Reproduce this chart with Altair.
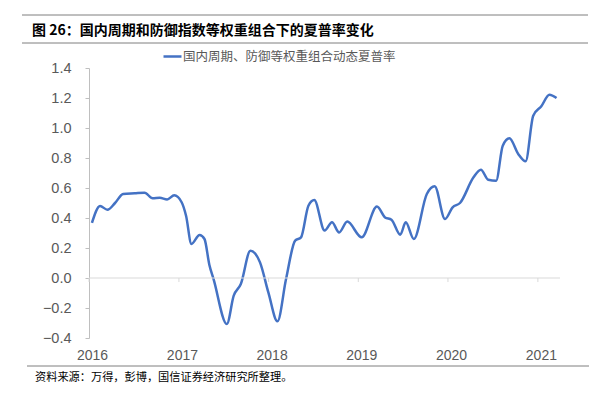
import altair as alt
import pandas as pd

# ---- data ----
dates = [
    "2016-01-13", "2016-02-15", "2016-03-16", "2016-04-16", "2016-05-19", "2016-07-05",
    "2016-08-14", "2016-09-16", "2016-10-15", "2016-11-14", "2016-12-13", "2017-01-12",
    "2017-01-30", "2017-02-21", "2017-03-26", "2017-04-15", "2017-05-05", "2017-05-22",
    "2017-07-15", "2017-08-12", "2017-09-10", "2017-10-19", "2017-11-27", "2017-12-31",
    "2018-02-06", "2018-03-13", "2018-04-19", "2018-05-13", "2018-06-12", "2018-07-06",
    "2018-08-17", "2018-09-16", "2018-10-15", "2018-11-17", "2019-01-15", "2019-03-18",
    "2019-04-20", "2019-05-16", "2019-06-21", "2019-07-13", "2019-08-15", "2019-10-07",
    "2019-11-08", "2019-12-20", "2020-01-20", "2020-02-19", "2020-04-14", "2020-05-14",
    "2020-06-13", "2020-07-15", "2020-08-11", "2020-09-07", "2020-10-13", "2020-11-12",
    "2020-12-13", "2021-01-15", "2021-02-17", "2021-03-18",
]
sharpe = [
    0.367, 0.480, 0.455, 0.500, 0.560, 0.565,
    0.569, 0.531, 0.535, 0.524, 0.551, 0.505,
    0.415, 0.227, 0.287, 0.260, 0.087, -0.007,
    -0.307, -0.118, -0.040, 0.182, 0.104, -0.096,
    -0.289, -0.007, 0.249, 0.271, 0.482, 0.520,
    0.316, 0.371, 0.304, 0.376, 0.271, 0.476,
    0.404, 0.389, 0.289, 0.371, 0.260, 0.560,
    0.611, 0.393, 0.471, 0.500, 0.671, 0.722,
    0.655, 0.649, 0.882, 0.931, 0.827, 0.778,
    1.082, 1.145, 1.222, 1.200,
]
series_name = "国内周期、防御等权重组合动态夏普率"
years = [2016, 2017, 2018, 2019, 2020, 2021]
y_ticks = [-0.4, -0.2, 0.0, 0.2, 0.4, 0.6, 0.8, 1.0, 1.2, 1.4]
title_text = "图 26：国内周期和防御指数等权重组合下的夏普率变化"
source_text = "资料来源：万得，彭博，国信证券经济研究所整理。"

CJK = "Noto Sans CJK SC"
NUM = "Liberation Sans"
GRAY = "#595959"
BLUE = "#4472C4"

df = pd.DataFrame({"date": dates, "value": sharpe, "series": series_name})
tick_df = pd.DataFrame({"d": [f"{y}-01-01" for y in years]})
one = pd.DataFrame({"t": [""]})

x_scale = alt.Scale(domain=[alt.DateTime(year=2016, month=1, date=1),
                            alt.DateTime(year=2021, month=4, date=1)])
y_scale = alt.Scale(domain=[-0.4, 1.4], nice=False, zero=False)

x_axis = alt.Axis(title=None, domain=False, ticks=False, grid=False,
                  values=[alt.DateTime(year=y, month=1, date=1) for y in years],
                  format="%Y", labelFontSize=14, labelColor=GRAY, labelFlush=False,
                  labelOverlap=False, labelPadding=10, labelOffset=3, labelFont=NUM)
y_axis = alt.Axis(title=None, grid=False, values=y_ticks, format=".1f",
                  domainColor="#bfbfbf", tickColor="#bfbfbf", tickSize=4,
                  labelOverlap=False, labelFlush=False,
                  labelFontSize=14.5, labelColor=GRAY, labelPadding=14,
                  labelFont=NUM)

line = alt.Chart(df).mark_line(strokeWidth=2.5, interpolate="monotone").encode(
    x=alt.X("date:T", scale=x_scale, axis=x_axis),
    y=alt.Y("value:Q", scale=y_scale, axis=y_axis),
    color=alt.Color("series:N", scale=alt.Scale(range=[BLUE]),
                    legend=alt.Legend(title=None, orient="none", legendX=73, legendY=-22,
                                      symbolType="stroke", symbolSize=324,
                                      symbolStrokeWidth=2.5, labelFontSize=12.5,
                                      labelColor=GRAY, labelFont=CJK, labelOffset=0,
                                      labelLimit=0, padding=0)),
)

zero = alt.Chart(one).mark_rule(color="#d9d9d9", strokeWidth=1.2).encode(
    y=alt.Y(datum=0, scale=y_scale, axis=y_axis))

ticks = alt.Chart(tick_df).mark_rule(color="#d9d9d9", strokeWidth=1).encode(
    x=alt.X("d:T", scale=x_scale, axis=x_axis),
    y=alt.Y(datum=0, scale=y_scale, axis=y_axis),
    y2=alt.Y2(datum=-0.027),
)

top_rule = alt.Chart(one).mark_rule(color="#7f7f7f", strokeWidth=1).encode(
    x=alt.value(-67), x2=alt.value(499), y=alt.value(-53))
mid_rule = alt.Chart(one).mark_rule(color="#7f7f7f", strokeWidth=1).encode(
    x=alt.value(-67), x2=alt.value(499), y=alt.value(-25))
bot_rule = alt.Chart(one).mark_rule(color="#7f7f7f", strokeWidth=1).encode(
    x=alt.value(-62), x2=alt.value(500), y=alt.value(298))

title = alt.Chart(pd.DataFrame({"t": [title_text]})).mark_text(
    align="left", baseline="middle", font=CJK, fontSize=14, fontWeight="bold",
    color="#000000").encode(x=alt.value(-57), y=alt.value(-37), text="t:N")
source = alt.Chart(pd.DataFrame({"t": [source_text]})).mark_text(
    align="left", baseline="middle", font=CJK, fontSize=11.2, color="#000000").encode(
    x=alt.value(-54), y=alt.value(310), text="t:N")

chart = alt.layer(line, zero, ticks, top_rule, mid_rule, bot_rule, title, source).properties(
    width=471, height=270,
    autosize=alt.AutoSizeParams(type="none"),
    padding={"left": 81, "top": 60, "right": 30, "bottom": 50},
    background="white",
).configure_view(stroke=None)

chart.save("out.html", embed_options={"renderer": "svg", "actions": False})
